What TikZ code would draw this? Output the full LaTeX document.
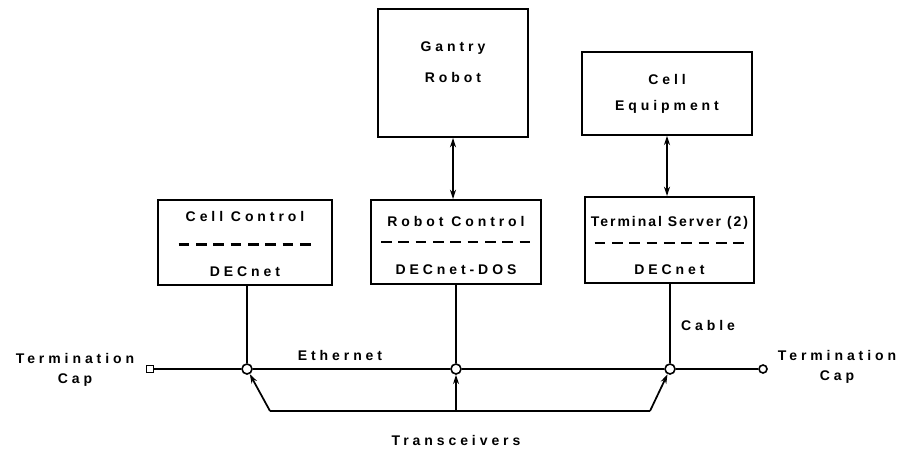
\documentclass[tikz,border=0pt]{standalone}
\usepackage{fontspec}
\newfontfamily\plotfont[LetterSpace=28]{Liberation Sans}
\newfontfamily\plotfonttight[LetterSpace=14]{Liberation Sans}
\usetikzlibrary{arrows.meta}
\usetikzlibrary{positioning}

\begin{document}
\begin{tikzpicture}[x=0.75pt,y=-0.75pt,>={Stealth[length=7pt,width=4.5pt]},
  box/.style={draw,line width=1.4pt,inner sep=0pt},
  lbl/.style={font=\fontsize{10.5}{12}\plotfont\bfseries,inner sep=1pt},
  lbltight/.style={font=\fontsize{10.5}{12}\plotfonttight\bfseries,inner sep=1pt},
  wire/.style={line width=1.3pt},
  sepline/.style={line width=1.6pt,dash pattern=on 8pt off 5pt},
  tap/.style={circle,draw,fill=white,line width=1.2pt,inner sep=0pt,minimum size=7.5pt}]
    \useasboundingbox (0,0) rectangle (905,450);
    % boxes, top row
    \node[box,minimum width=112.5pt,minimum height=96pt] (gantry) at (453,73) {};
    \node[lbl] (gantry-a) at (453,48) {Gantry};
    \node[lbl] (gantry-b) at (453,77) {Robot};
    \node[box,minimum width=127.5pt,minimum height=62pt] (cellequip) at (667,93.5) {};
    \node[lbl] (cellequip-a) at (667,79) {Cell};
    \node[lbl] (cellequip-b) at (667,107) {Equipment};

    % boxes on the network
    \node[box,minimum width=130pt,minimum height=64pt] (cellctrl) at (245,242.5) {};
    \node[box,minimum width=127pt,minimum height=63pt] (robotctrl) at (456,242) {};
    \node[box,minimum width=127pt,minimum height=64.5pt] (termsrv) at (669.5,240) {};
    \node[lbl] (cellctrl-a) at (245,216) {Cell Control};
    \node[lbl] (cellctrl-b) at (245,272) {DECnet};
    \node[lbl] (robotctrl-a) at (456,221) {Robot Control};
    \node[lbl] (robotctrl-b) at (456,270) {DECnet-DOS};
    \node[lbltight] (termsrv-a) at (669.5,223) {Terminal Server (2)};
    \node[lbl] (termsrv-b) at (669.5,270) {DECnet};
    \draw[sepline] ([xshift=16pt,yshift=-1.5pt]cellctrl.west) -- ([xshift=-13pt,yshift=-1.5pt]cellctrl.east);
    \draw[sepline] ([xshift=8pt]robotctrl.west) -- ([xshift=-8pt]robotctrl.east);
    \draw[sepline] ([xshift=8pt,yshift=-2pt]termsrv.west) -- ([xshift=-8pt,yshift=-2pt]termsrv.east);

    % links to the upper boxes
    \draw[wire,<->] (gantry.south) -- (gantry.south |- robotctrl.north);
    \draw[wire,<->] (cellequip.south) -- (cellequip.south |- termsrv.north);

    % Ethernet bus
    \node[draw,line width=1.2pt,fill=white,inner sep=0pt,minimum size=5.5pt] (capL) at (150,369) {};
    \node[tap] (tap1) at (247,369) {};
    \node[tap] (tap2) at (456,369) {};
    \node[tap] (tap3) at (670,369) {};
    \node[circle,draw,line width=1.2pt,fill=white,inner sep=0pt,minimum size=6pt] (capR) at (763,369) {};
    \draw[wire] (capL) -- (tap1) -- (tap2) -- (tap3) -- (capR);
    \draw[wire] (cellctrl.south -| tap1) -- (tap1);
    \draw[wire] (robotctrl.south -| tap2) -- (tap2);
    \draw[wire] (termsrv.south -| tap3) -- (tap3);

    % transceivers
    \coordinate (trl) at (270,411);
    \coordinate (trm) at (456,411);
    \coordinate (trr) at (650,411);
    \draw[wire] (trl) -- (trr);
    \draw[wire,->] (trl) -- (tap1);
    \draw[wire,->] (trm) -- (tap2);
    \draw[wire,->] (trr) -- (tap3);

    \node[lbl] (termL-a) at (75,358) {Termination};
    \node[lbl] (termL-b) at (75,380) {Cap};
    \node[lbl] (termR-a) at (837,355) {Termination};
    \node[lbl] (termR-b) at (837,377) {Cap};
    \node[lbl] (ether) at (340,355) {Ethernet};
    \node[lbl] (cable) at (708,325) {Cable};
    \node[lbl] (transc) at (456,440) {Transceivers};
\end{tikzpicture}
\end{document}
